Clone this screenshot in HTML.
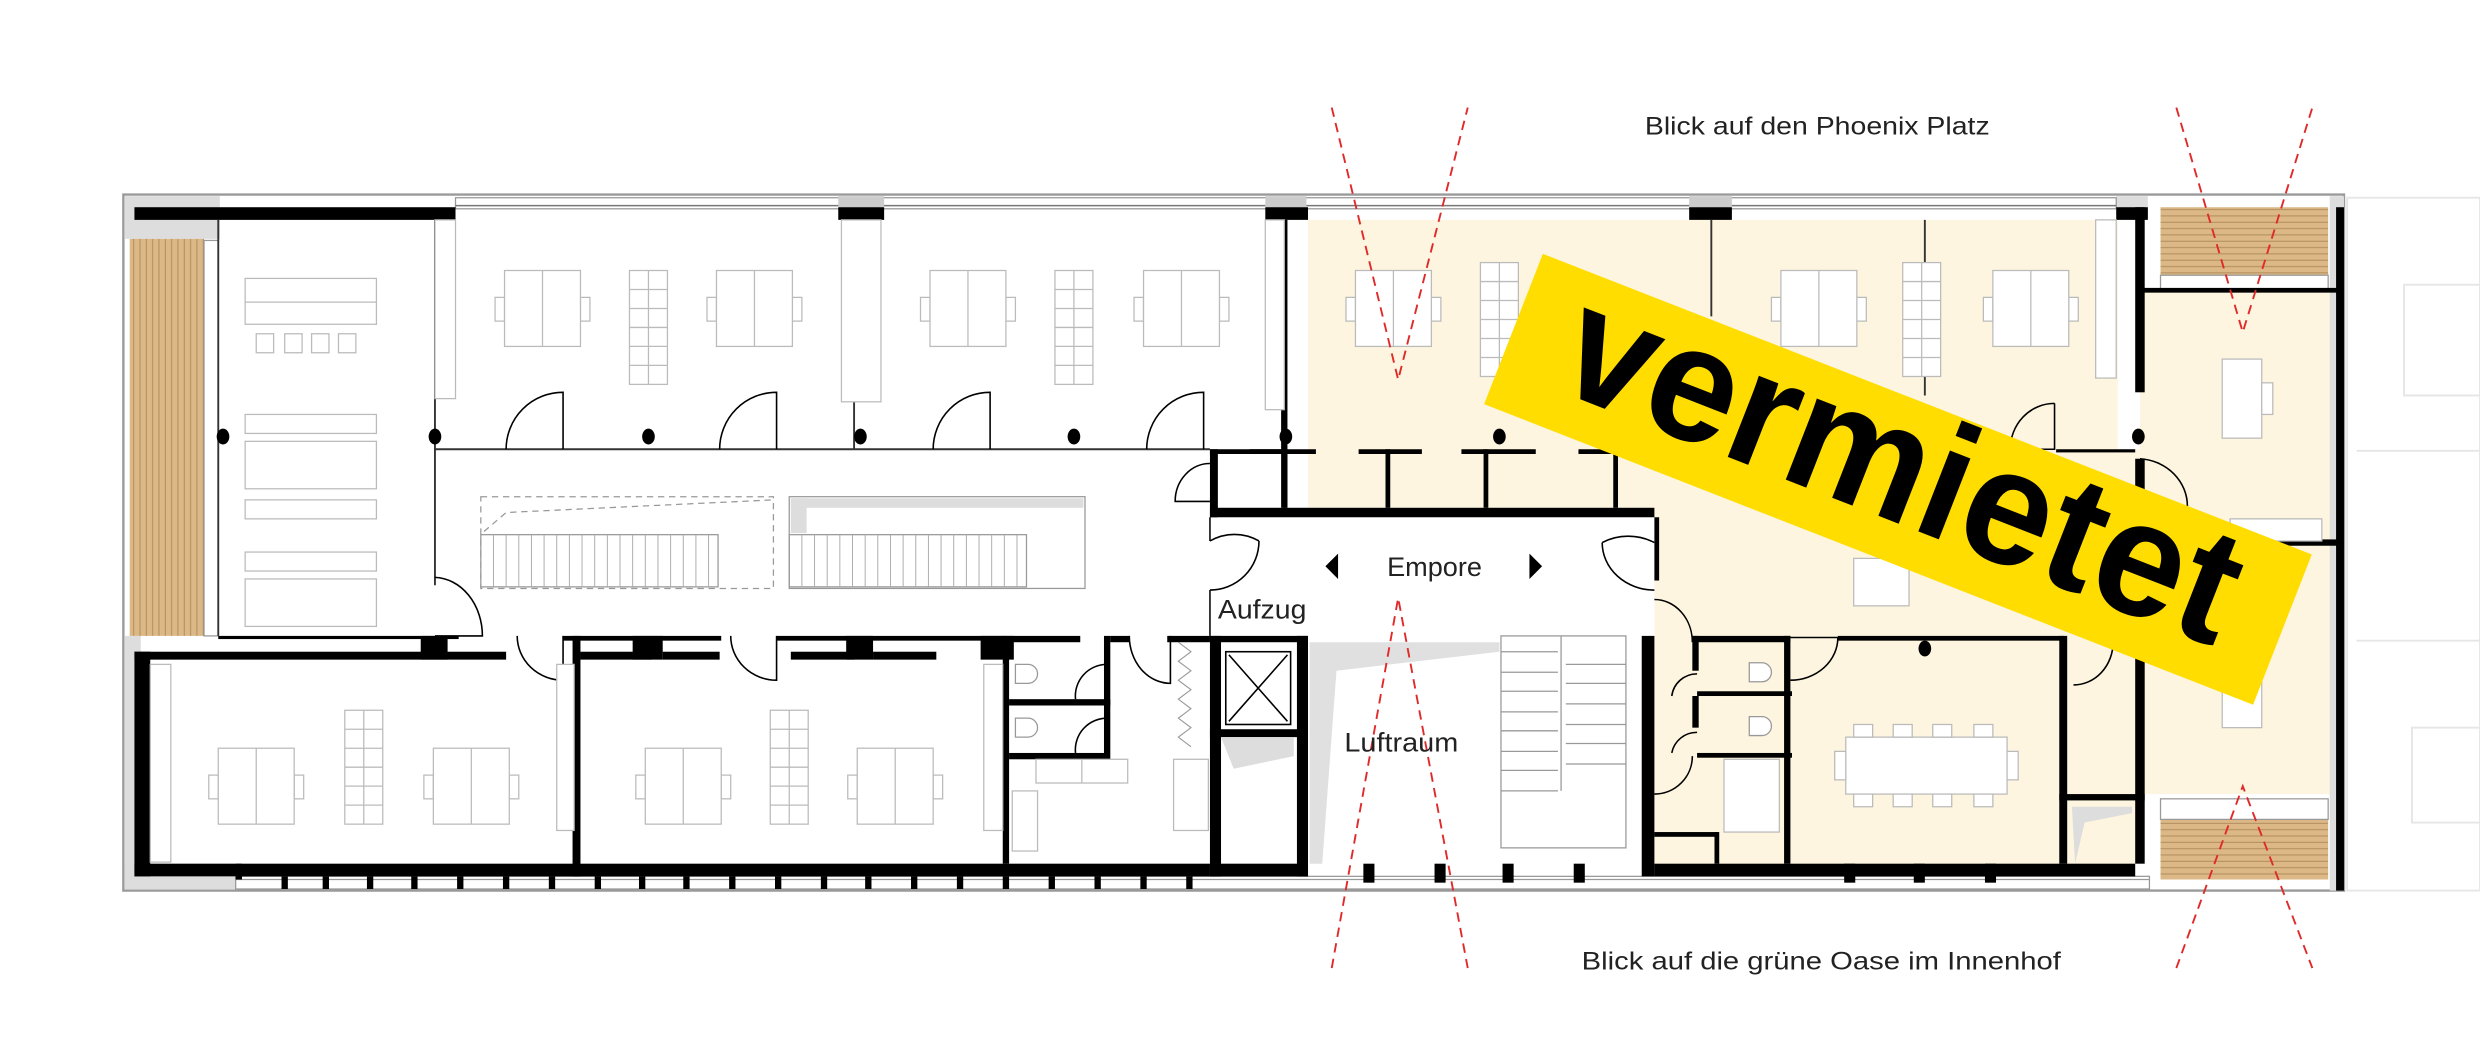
<!DOCTYPE html>
<html><head><meta charset="utf-8"><style>
html,body{margin:0;padding:0;background:#fff;}
svg{display:block;}
text{font-family:"Liberation Sans",sans-serif;fill:#222;}
</style></head><body>
<svg width="2480" height="1063" viewBox="0 0 1568 672" preserveAspectRatio="none" xmlns="http://www.w3.org/2000/svg">
<defs>
<pattern id="woodV" width="4" height="10" patternUnits="userSpaceOnUse"><rect width="4" height="10" fill="#dcb887"/><line x1="0.5" y1="0" x2="0.5" y2="10" stroke="#b08a5a" stroke-width="0.6"/></pattern>
<pattern id="woodH" width="10" height="4" patternUnits="userSpaceOnUse"><rect width="10" height="4" fill="#dcb887"/><line x1="0" y1="0.5" x2="10" y2="0.5" stroke="#b08a5a" stroke-width="0.6"/></pattern>
<g id="desk" fill="#fff" stroke="#bbb" stroke-width="0.8"><rect x="-6" y="17" width="6" height="15"/><rect x="48" y="17" width="6" height="15"/><rect x="0" y="0" width="48" height="48"/><line x1="24" y1="0" x2="24" y2="48"/></g>
<g id="stor" fill="#fff" stroke="#bbb" stroke-width="0.8"><rect x="0" y="0" width="24" height="72"/><line x1="12" y1="0" x2="12" y2="72"/><line x1="0" y1="12" x2="24" y2="12"/><line x1="0" y1="24" x2="24" y2="24"/><line x1="0" y1="36" x2="24" y2="36"/><line x1="0" y1="48" x2="24" y2="48"/><line x1="0" y1="60" x2="24" y2="60"/></g>
</defs>
<rect width="1568" height="672" fill="#fff"/>

<!-- yellow rented zones -->
<g fill="#fdf5df">
<rect x="827" y="139" width="512" height="182"/>
<rect x="1046" y="284" width="307" height="262"/>
<rect x="1353" y="184" width="125" height="318"/>
</g>

<!-- neighbour building faded -->
<g fill="none" stroke="#e6e6e6" stroke-width="1.2">
<rect x="1484" y="125" width="84" height="438"/>
<line x1="1490" y1="285" x2="1568" y2="285"/><line x1="1490" y1="405" x2="1568" y2="405"/>
<rect x="1520" y="180" width="48" height="70"/><rect x="1525" y="460" width="43" height="60"/>
</g>

<!-- outer frame -->
<rect x="78" y="123" width="1404" height="440" fill="none" stroke="#9a9a9a" stroke-width="1.5"/>
<rect x="79" y="124" width="60" height="27" fill="#ddd"/>
<rect x="79" y="402" width="10" height="160" fill="#ddd"/>
<rect x="79" y="546" width="70" height="16" fill="#ddd"/>
<rect x="1338" y="124" width="20" height="12" fill="#ddd"/>
<rect x="1473" y="124" width="9" height="439" fill="#ddd"/>
<!-- window strips -->
<g fill="#fff" stroke="#999" stroke-width="0.8">
<rect x="288" y="125" width="1050" height="7"/>
<rect x="149" y="554" width="1210" height="8"/>
</g>
<line x1="288" y1="130" x2="1338" y2="130" stroke="#777" stroke-width="1"/>
<line x1="149" y1="556" x2="1359" y2="556" stroke="#999" stroke-width="0.8"/>
<g fill="#ccc"><rect x="530" y="124" width="29" height="7"/><rect x="1068" y="124" width="27" height="7"/><rect x="800" y="124" width="26" height="7"/></g>

<!-- balconies -->
<rect x="82" y="151" width="47" height="251" fill="url(#woodV)"/>
<rect x="1366" y="131" width="106" height="43" fill="url(#woodH)"/>
<rect x="1366" y="518" width="106" height="38" fill="url(#woodH)"/>
<g stroke="#999" fill="none" stroke-width="0.8"><rect x="129" y="152" width="9" height="250"/><rect x="1366" y="174" width="106" height="10"/><rect x="1366" y="505" width="106" height="13"/></g>

<!-- black walls -->
<g fill="#000">
<rect x="85" y="131" width="203" height="8"/>
<rect x="530" y="131" width="29" height="8"/>
<rect x="800" y="131" width="27" height="8"/>
<rect x="1068" y="131" width="27" height="8"/>
<rect x="1338" y="131" width="20" height="8"/>
<rect x="1350" y="131" width="6" height="117"/>
<rect x="1350" y="290" width="6" height="256"/>
<rect x="1477" y="131" width="5" height="432"/>
<rect x="810" y="139" width="4" height="182"/>
<rect x="138" y="402" width="152" height="2"/>
<rect x="266" y="402" width="17" height="15"/>
<rect x="85" y="412" width="235" height="5"/>
<rect x="85" y="412" width="10" height="142"/>
<rect x="85" y="546" width="680" height="8"/>
<rect x="362" y="402" width="5" height="152"/>
<rect x="356" y="402" width="100" height="3"/>
<rect x="367" y="412" width="45" height="5"/><rect x="400" y="402" width="19" height="15"/><rect x="419" y="412" width="36" height="5"/>
<rect x="491" y="402" width="144" height="3"/>
<rect x="500" y="412" width="40" height="5"/><rect x="535" y="402" width="17" height="15"/><rect x="552" y="412" width="40" height="5"/>
<rect x="620" y="402" width="21" height="15"/>
<rect x="634" y="402" width="4" height="144"/>
<rect x="638" y="402" width="45" height="4"/>
<rect x="638" y="442" width="60" height="4"/>
<rect x="638" y="476" width="60" height="4"/>
<rect x="698" y="402" width="4" height="44"/><rect x="698" y="442" width="4" height="38"/>
<rect x="702" y="402" width="12" height="4"/>
<rect x="738" y="402" width="27" height="4"/>
<rect x="765" y="402" width="62" height="4"/>
<rect x="765" y="402" width="7" height="152"/>
<rect x="820" y="402" width="7" height="152"/>
<rect x="765" y="461" width="62" height="5"/>
<rect x="765" y="546" width="62" height="8"/>
<rect x="765" y="284" width="5" height="43"/>
<rect x="765" y="284" width="48" height="3"/>
<rect x="765" y="321" width="281" height="6"/>
<rect x="790" y="284" width="42" height="3"/><rect x="859" y="284" width="40" height="3"/><rect x="924" y="284" width="47" height="3"/><rect x="998" y="284" width="23" height="3"/>
<rect x="876" y="284" width="3" height="37"/><rect x="938" y="284" width="3" height="37"/><rect x="1020" y="284" width="3" height="37"/><rect x="811" y="284" width="3" height="37"/>
<rect x="1038" y="402" width="8" height="152"/>
<rect x="1046" y="546" width="304" height="8"/>
<rect x="1070" y="402" width="62" height="4"/>
<rect x="1070" y="402" width="4" height="22"/><rect x="1070" y="440" width="4" height="20"/>
<rect x="1073" y="437" width="60" height="3"/>
<rect x="1073" y="476" width="60" height="3"/>
<rect x="1128" y="402" width="4" height="144"/>
<rect x="1162" y="402" width="143" height="3"/>
<rect x="1302" y="402" width="5" height="144"/>
<rect x="1302" y="502" width="54" height="4"/>
<rect x="1046" y="526" width="40" height="3"/><rect x="1084" y="526" width="3" height="20"/>
<rect x="1434" y="341" width="44" height="4"/>
<rect x="1353" y="182" width="125" height="3"/>
<rect x="1300" y="284" width="50" height="2"/>
<rect x="1046" y="327" width="3" height="40"/>
<!-- window mullions bottom -->
<rect x="149" y="546" width="4" height="10"/>
</g>
<g fill="#000">
<rect x="178" y="554" width="4" height="8"/><rect x="204" y="554" width="4" height="8"/><rect x="232" y="554" width="4" height="8"/><rect x="260" y="554" width="4" height="8"/><rect x="289" y="554" width="4" height="8"/><rect x="318" y="554" width="4" height="8"/><rect x="347" y="554" width="4" height="8"/><rect x="376" y="554" width="4" height="8"/><rect x="404" y="554" width="4" height="8"/><rect x="432" y="554" width="4" height="8"/><rect x="461" y="554" width="4" height="8"/><rect x="490" y="554" width="4" height="8"/><rect x="519" y="554" width="4" height="8"/><rect x="547" y="554" width="4" height="8"/><rect x="576" y="554" width="4" height="8"/><rect x="605" y="554" width="4" height="8"/><rect x="634" y="554" width="4" height="8"/><rect x="663" y="554" width="4" height="8"/><rect x="692" y="554" width="4" height="8"/><rect x="721" y="554" width="4" height="8"/><rect x="750" y="554" width="4" height="8"/>
<rect x="862" y="546" width="7" height="12"/><rect x="907" y="546" width="7" height="12"/><rect x="950" y="546" width="7" height="12"/><rect x="995" y="546" width="7" height="12"/>
<rect x="1166" y="546" width="7" height="12"/><rect x="1210" y="546" width="7" height="12"/><rect x="1255" y="546" width="7" height="12"/>
</g>

<!-- thin walls / partitions -->
<g stroke="#333" stroke-width="1.2" fill="none">
<line x1="275" y1="284" x2="765" y2="284"/>
<line x1="275" y1="139" x2="275" y2="370"/>
<line x1="138" y1="139" x2="138" y2="402"/>
<line x1="540" y1="139" x2="540" y2="284"/>
<line x1="1082" y1="139" x2="1082" y2="200"/><line x1="1217" y1="139" x2="1217" y2="250"/>
<line x1="765" y1="327" x2="765" y2="342"/><line x1="765" y1="373" x2="765" y2="402"/>
</g>

<!-- columns -->
<g fill="#000">
<ellipse cx="141" cy="276" rx="4" ry="5"/><ellipse cx="275" cy="276" rx="4" ry="5"/><ellipse cx="410" cy="276" rx="4" ry="5"/><ellipse cx="544" cy="276" rx="4" ry="5"/><ellipse cx="679" cy="276" rx="4" ry="5"/><ellipse cx="813" cy="276" rx="4" ry="5"/><ellipse cx="948" cy="276" rx="4" ry="5"/><ellipse cx="1352" cy="276" rx="4" ry="5"/><ellipse cx="1217" cy="410" rx="4" ry="5"/>
</g>

<!-- doors -->
<g stroke="#000" stroke-width="1" fill="none">
<path d="M320,284 A36,36 0 0 1 356,248 L356,284"/>
<path d="M455,284 A36,36 0 0 1 491,248 L491,284"/>
<path d="M590,284 A36,36 0 0 1 626,248 L626,284"/>
<path d="M725,284 A36,36 0 0 1 761,248 L761,284"/>
<path d="M275,365 A31,37 0 0 1 305,402 L275,402"/>
<path d="M327,402 A29,28 0 0 0 356,430 L356,402"/>
<path d="M462,402 A29,28 0 0 0 491,430 L491,402"/>
<path d="M714,402 A26,30 0 0 0 740,432 L740,402"/>
<path d="M680,442 A20,20 0 0 1 700,420"/>
<path d="M680,476 A20,20 0 0 1 700,454"/>
<path d="M765,293 A22,24 0 0 0 743,317 L765,317"/>
<path d="M765,342 A31,31 0 0 1 796,342 M765,373 A31,31 0 0 0 796,342"/>
<path d="M1046,343 A33,30 0 0 0 1013,343 M1046,373 A33,30 0 0 1 1013,343"/>
<path d="M1299,255 A28,29 0 0 0 1271,284 L1299,284 L1299,255"/>
<path d="M1353,290 A32,30 0 0 1 1383,320"/>
<path d="M1046,379 A24,27 0 0 1 1070,406"/>
<path d="M1132,430 A30,27 0 0 0 1162,403 L1132,403"/>
<path d="M1311,433 A25,27 0 0 0 1336,406"/>
<path d="M1046,502 A24,24 0 0 0 1070,478"/>
<path d="M1073,426 A16,16 0 0 0 1057,440 M1073,463 A16,16 0 0 0 1057,476"/>
</g>

<!-- furniture -->
<g fill="#fff" stroke="#bbb" stroke-width="0.8">
<rect x="155" y="176" width="83" height="29"/><line x1="155" y1="191" x2="238" y2="191"/>
<rect x="162" y="211" width="11" height="12"/><rect x="180" y="211" width="11" height="12"/><rect x="197" y="211" width="11" height="12"/><rect x="214" y="211" width="11" height="12"/>
<rect x="155" y="262" width="83" height="12"/><rect x="155" y="279" width="83" height="30"/><rect x="155" y="316" width="83" height="12"/><rect x="155" y="349" width="83" height="12"/><rect x="155" y="366" width="83" height="30"/>
<rect x="275" y="139" width="13" height="113"/>
<rect x="532" y="139" width="25" height="115"/>
<rect x="800" y="139" width="12" height="120"/>
<rect x="1325" y="139" width="13" height="100"/>
<rect x="1405" y="227" width="25" height="50"/><rect x="1430" y="242" width="7" height="20"/>
<rect x="1405" y="420" width="25" height="40"/>
<rect x="1410" y="328" width="58" height="14"/>
<rect x="1167" y="466" width="102" height="36"/>
<rect x="1160" y="475" width="7" height="18"/><rect x="1269" y="475" width="7" height="18"/>
<rect x="1172" y="458" width="12" height="8"/><rect x="1197" y="458" width="12" height="8"/><rect x="1222" y="458" width="12" height="8"/><rect x="1248" y="458" width="12" height="8"/>
<rect x="1172" y="502" width="12" height="8"/><rect x="1197" y="502" width="12" height="8"/><rect x="1222" y="502" width="12" height="8"/><rect x="1248" y="502" width="12" height="8"/>
<rect x="1172" y="353" width="35" height="30"/>
<rect x="655" y="480" width="58" height="15"/><line x1="684" y1="480" x2="684" y2="495"/>
<rect x="742" y="480" width="22" height="45"/>
<rect x="640" y="500" width="16" height="38"/>
<rect x="95" y="420" width="13" height="125"/><rect x="352" y="420" width="11" height="105"/><rect x="622" y="420" width="12" height="105"/>
<rect x="1090" y="480" width="35" height="46"/>
</g>
<g fill="#fff" stroke="#999" stroke-width="0.8">
<path d="M642,420 h8 a5,5 0 0 1 0,12 h-8 z"/><path d="M642,454 h8 a5,5 0 0 1 0,12 h-8 z"/>
<path d="M1106,419 h8 a5,5 0 0 1 0,12 h-8 z" transform="translate(0,0) scale(1)"/><path d="M1106,453 h8 a5,5 0 0 1 0,12 h-8 z"/>
</g>
<use href="#desk" x="319" y="171"/><use href="#desk" x="453" y="171"/><use href="#desk" x="588" y="171"/><use href="#desk" x="723" y="171"/>
<use href="#desk" x="857" y="171"/><use href="#desk" x="1126" y="171"/><use href="#desk" x="1260" y="171"/>
<use href="#stor" x="398" y="171"/><use href="#stor" x="667" y="171"/><use href="#stor" x="936" y="166"/><use href="#stor" x="1203" y="166"/>
<use href="#desk" x="138" y="473"/><use href="#desk" x="274" y="473"/><use href="#desk" x="408" y="473"/><use href="#desk" x="542" y="473"/>
<use href="#stor" x="218" y="449"/><use href="#stor" x="487" y="449"/>

<!-- stairs -->
<g fill="none" stroke="#999" stroke-width="0.8">
<rect x="304" y="314" width="185" height="58" stroke-dasharray="4 3"/>
<path d="M306,336 L320,324 L489,316" stroke-dasharray="4 3"/>
<rect x="499" y="314" width="187" height="58"/>
<rect x="304" y="338" width="150" height="33"/>
<rect x="499" y="338" width="150" height="33"/>
</g>
<rect x="500" y="315" width="185" height="6" fill="#ddd"/><rect x="500" y="315" width="10" height="22" fill="#ddd"/>
<g stroke="#aaa" stroke-width="0.6">
<path d="M312,338v33M320,338v33M328,338v33M336,338v33M344,338v33M352,338v33M360,338v33M368,338v33M376,338v33M384,338v33M392,338v33M400,338v33M408,338v33M416,338v33M424,338v33M432,338v33M440,338v33M448,338v33"/>
<path d="M507,338v33M515,338v33M523,338v33M531,338v33M539,338v33M547,338v33M555,338v33M563,338v33M571,338v33M579,338v33M587,338v33M595,338v33M603,338v33M611,338v33M619,338v33M627,338v33M635,338v33M643,338v33"/>
</g>
<!-- right stair -->
<g fill="none" stroke="#999" stroke-width="0.8">
<rect x="949" y="402" width="79" height="134"/>
<path d="M949,412h36M949,425h36M949,437h36M949,450h36M949,462h36M949,475h36M949,487h36M949,500h36"/>
<path d="M990,420h38M990,432h38M990,445h38M990,458h38M990,470h38M990,483h38"/>
<line x1="987" y1="402" x2="987" y2="500"/>
</g>
<polygon points="828,406 948,406 948,412 845,424 836,546 828,546" fill="#e0e0e0"/>
<polygon points="772,466 818,466 818,478 780,486" fill="#ddd"/>
<polygon points="1310,510 1348,510 1348,514 1318,520 1312,546" fill="#ddd"/>
<!-- elevator -->
<g fill="none" stroke="#000" stroke-width="1"><rect x="775" y="412" width="41" height="46"/><path d="M777,414 L814,456 M814,414 L777,456"/></g>
<path d="M745,406 l8,6 -8,6 8,6 -8,6 8,6 -8,6 8,6 -8,6 8,6 -8,6 8,6" fill="none" stroke="#999" stroke-width="0.7"/>

<!-- red sight lines -->
<g stroke="#e02a2a" stroke-width="1.2" stroke-dasharray="6 4" fill="none">
<path d="M842,68 L884,240 L928,68"/>
<path d="M842,612 L884,378 L928,612"/>
<path d="M1376,68 L1418,210 L1462,68"/>
<path d="M1376,612 L1418,497 L1462,612"/>
</g>

<!-- labels -->
<text x="1040" y="85" font-size="16" textLength="218" lengthAdjust="spacingAndGlyphs">Blick auf den Phoenix Platz</text>
<text x="1000" y="613" font-size="16" textLength="303" lengthAdjust="spacingAndGlyphs">Blick auf die grüne Oase im Innenhof</text>
<text x="877" y="364" font-size="17" textLength="60" lengthAdjust="spacingAndGlyphs">Empore</text>
<text x="770" y="391" font-size="17" textLength="56" lengthAdjust="spacingAndGlyphs">Aufzug</text>
<text x="850" y="475" font-size="17" textLength="72" lengthAdjust="spacingAndGlyphs">Luftraum</text>
<polygon points="846,350 838,358 846,366" fill="#000"/>
<polygon points="967,350 975,358 967,366" fill="#000"/>

<!-- vermietet banner -->
<g transform="translate(1200,303) rotate(21.35)">
<rect x="-261" y="-51" width="522" height="102" fill="#ffdd00"/>
<text x="0" y="26" font-size="104" font-weight="bold" text-anchor="middle" textLength="450" lengthAdjust="spacingAndGlyphs" style="fill:#000">vermietet</text>
</g>
</svg>
</body></html>
